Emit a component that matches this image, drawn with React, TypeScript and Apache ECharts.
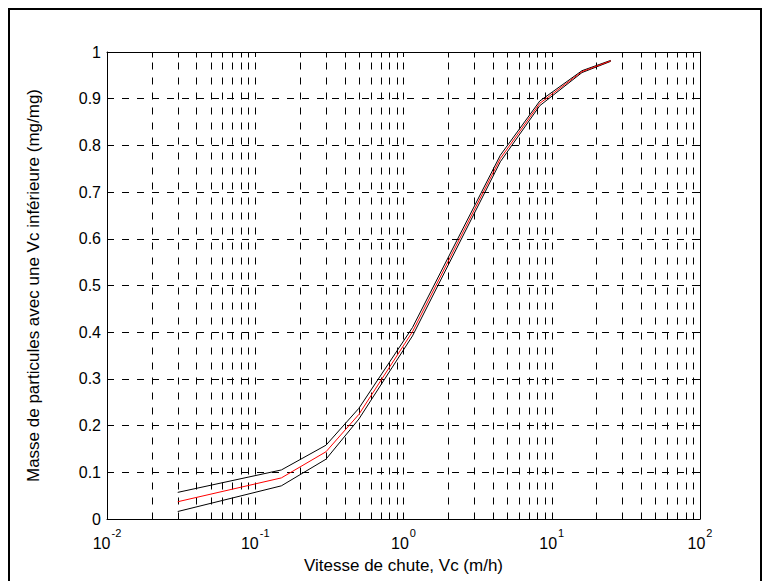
import React, { useEffect, useRef } from "react";
import * as echarts from "echarts";

// Data
const vc = [0.03, 0.15, 0.3, 0.5, 1.15, 4.5, 8.3, 16, 25];
const massMean = [0.037, 0.088, 0.144, 0.224, 0.401, 0.772, 0.89, 0.958, 0.981];
const massUpper = [0.057, 0.105, 0.158, 0.237, 0.41, 0.779, 0.895, 0.96, 0.982];
const massLower = [0.016, 0.071, 0.128, 0.214, 0.392, 0.765, 0.885, 0.956, 0.98];

const decades = [0.01, 0.1, 1, 10];
const minorMultipliers = [2, 3, 4, 5, 6, 7, 8, 9];
const majorInner = [0.1, 1, 10];

const FONT = "'Liberation Sans', Arial, Helvetica, sans-serif";
const TICK_FS = 16;
const NAME_FS = 17;

export default function App() {
  const ref = useRef<HTMLDivElement>(null);
  useEffect(() => {
    if (!ref.current) return;
    const chart = echarts.init(ref.current, null, { renderer: "svg" });

    const gridData: number[][] = [];
    decades.forEach((d) =>
      minorMultipliers.forEach((m) => gridData.push([+(d * m).toPrecision(3), 0]))
    );
    majorInner.forEach((v) => gridData.push([v, 1]));

    const toPts = (ys: number[]) => vc.map((x, i) => [x, ys[i]]);

    const xLabel = {
      show: true,
      margin: 8,
      color: "#000",
      fontFamily: FONT,
      formatter: (v: number) => {
        const e = Math.round(Math.log10(v));
        return `{b|10}{e|${e}}`;
      },
      rich: {
        b: { fontSize: TICK_FS, fontFamily: FONT, color: "#000", lineHeight: 24, verticalAlign: "bottom" },
        e: { fontSize: 11, fontFamily: FONT, color: "#000", lineHeight: 24, verticalAlign: "top", padding: [0, 0, 0, 1] },
      },
    };

    const option: any = {
      animation: false,
      backgroundColor: "#fff",
      textStyle: { fontFamily: FONT },
      grid: { left: 107, right: 63, top: 52, bottom: 62, containLabel: false },
      xAxis: [
        {
          type: "log",
          logBase: 10,
          min: 0.01,
          max: 100,
          position: "bottom",
          axisLine: { show: true, onZero: false, lineStyle: { color: "#000", width: 1 } },
          axisTick: { show: true, inside: true, length: 5, lineStyle: { color: "#000" } },
          axisLabel: xLabel,
          splitLine: { show: false },
          minorTick: { show: false },
          name: "Vitesse de chute, Vc (m/h)",
          nameLocation: "middle",
          nameGap: 38,
          nameTextStyle: { fontSize: NAME_FS, fontFamily: FONT, color: "#000" },
        },
        {
          type: "log",
          logBase: 10,
          min: 0.01,
          max: 100,
          position: "top",
          axisLine: { show: true, onZero: false, lineStyle: { color: "#000", width: 1 } },
          axisTick: { show: true, inside: true, length: 5, lineStyle: { color: "#000" } },
          axisLabel: { show: false },
          splitLine: { show: false },
        },
      ],
      yAxis: [
        {
          type: "value",
          min: 0,
          max: 1,
          interval: 0.1,
          position: "left",
          axisLine: { show: true, onZero: false, lineStyle: { color: "#000", width: 1 } },
          axisTick: { show: true, inside: true, length: 5, lineStyle: { color: "#000" } },
          axisLabel: {
            color: "#000",
            fontSize: TICK_FS,
            fontFamily: FONT,
            margin: 6,
            formatter: (v: number) => String(+v.toFixed(1)),
          },
          splitLine: {
            show: true,
            lineStyle: { color: "#000", width: 1, type: [7, 8] },
          },
          name: "Masse de particules avec une Vc inférieure (mg/mg)",
          nameLocation: "middle",
          nameGap: 65,
          nameRotate: 90,
          nameTextStyle: { fontSize: NAME_FS, fontFamily: FONT, color: "#000" },
        },
        {
          type: "value",
          min: 0,
          max: 1,
          interval: 0.1,
          position: "right",
          axisLine: { show: true, onZero: false, lineStyle: { color: "#000", width: 1 } },
          axisTick: { show: true, inside: true, length: 5, lineStyle: { color: "#000" } },
          axisLabel: { show: false },
          splitLine: { show: false },
        },
      ],
      graphic: [
        {
          type: "rect",
          shape: { x: 9, y: 9, width: 752, height: 620 },
          style: { fill: "none", stroke: "#000", lineWidth: 2 },
          silent: true,
          z: 100,
        },
      ],
      series: [
        {
          type: "custom",
          xAxisIndex: 0,
          yAxisIndex: 0,
          silent: true,
          z: 1,
          data: gridData,
          renderItem: (params: any, api: any) => {
            const v = api.value(0);
            const major = api.value(1) === 1;
            const p0 = api.coord([v, 0]);
            const p1 = api.coord([v, 1]);
            const x = Math.round(p0[0]) + 0.5;
            const yb = Math.round(p0[1]) + 0.5;
            const yt = Math.round(p1[1]) + 0.5;
            const children: any[] = [
              {
                type: "line",
                shape: { x1: x, y1: yb, x2: x, y2: yt },
                style: { stroke: "#000", lineWidth: 1, lineDash: [7, 8] },
              },
            ];
            if (!major) {
              children.push(
                { type: "line", shape: { x1: x, y1: yb, x2: x, y2: yb - 5 }, style: { stroke: "#000", lineWidth: 1 } },
                { type: "line", shape: { x1: x, y1: yt, x2: x, y2: yt + 5 }, style: { stroke: "#000", lineWidth: 1 } }
              );
            }
            return { type: "group", children };
          },
        },
        {
          type: "line",
          data: toPts(massUpper),
          symbol: "none",
          lineStyle: { color: "#000", width: 1 },
          z: 3,
        },
        {
          type: "line",
          data: toPts(massLower),
          symbol: "none",
          lineStyle: { color: "#000", width: 1 },
          z: 3,
        },
        {
          type: "line",
          data: toPts(massMean),
          symbol: "none",
          lineStyle: { color: "#ff0000", width: 1 },
          z: 4,
        },
      ],
    };
    chart.setOption(option);
    return () => chart.dispose();
  }, []);

  return (
    <div
      ref={ref}
      style={{ position: "fixed", left: 0, top: 0, width: 763, height: 581, background: "#fff" }}
    />
  );
}
